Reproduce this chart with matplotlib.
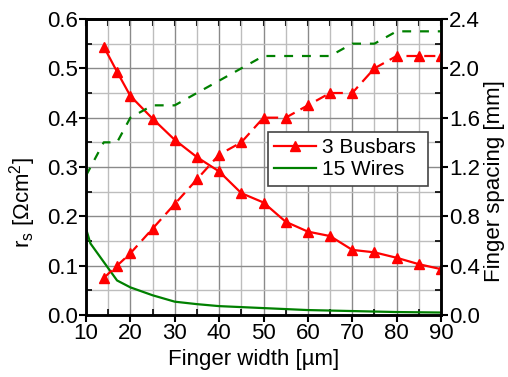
import numpy as np
import matplotlib
matplotlib.use("Agg")
from matplotlib import pyplot as plt
from matplotlib.ticker import MultipleLocator, FormatStrFormatter, NullFormatter

plt.rcParams['font.family'] = ['Liberation Sans', 'DejaVu Sans']

# 3 busbars: series resistance and finger spacing vs finger width
bb_width = [14, 17, 20, 25, 30, 35, 40, 45, 50, 55, 60, 65, 70, 75, 80, 85, 90]
bb_rs = [0.544, 0.493, 0.444, 0.398, 0.355, 0.320, 0.291, 0.247, 0.228,
         0.189, 0.169, 0.160, 0.132, 0.127, 0.116, 0.103, 0.093]
bb_spacing = [0.3, 0.4, 0.5, 0.7, 0.9, 1.1, 1.3, 1.4, 1.6, 1.6, 1.7, 1.8,
              1.8, 2.0, 2.1, 2.1, 2.1]

# 15 wires
w_width = [10, 11, 17, 20, 25, 30, 35, 40, 45, 50, 60, 70, 80, 90]
w_rs = [0.175, 0.145, 0.070, 0.056, 0.040, 0.027, 0.022, 0.018, 0.016,
        0.014, 0.010, 0.008, 0.006, 0.005]
w_sp_width = [10, 14, 17, 20, 25, 30, 35, 40, 45, 50, 55, 60, 65, 70, 75,
              80, 85, 90]
w_spacing = [1.13, 1.4, 1.4, 1.6, 1.7, 1.7, 1.8, 1.9, 2.0, 2.1, 2.1, 2.1,
             2.1, 2.2, 2.2, 2.3, 2.3, 2.3]

FS = 16

fig = plt.figure(figsize=(5.08, 3.77), dpi=100)
ax = fig.add_axes([86/508, 62/377, 355/508, 296/377])
ax2 = ax.twinx()

l1, = ax.plot(bb_width, bb_rs, color='red', lw=1.6, marker='^', ms=7,
              label='3 Busbars')
l2, = ax.plot(w_width, w_rs, color='green', lw=1.6, label='15 Wires')
ax2.plot(bb_width, bb_spacing, color='red', lw=1.6, marker='^', ms=7,
         dashes=(5, 3))
ax2.plot(w_sp_width, w_spacing, color='green', lw=1.6, dashes=(4, 4))

ax.set_xlim(10, 90)
ax.set_ylim(0, 0.6)
ax2.set_ylim(0, 2.4)
ax.xaxis.set_major_locator(MultipleLocator(10))
ax.xaxis.set_minor_locator(MultipleLocator(5))
ax.yaxis.set_major_locator(MultipleLocator(0.1))
ax.yaxis.set_minor_locator(MultipleLocator(0.05))
ax2.yaxis.set_major_locator(MultipleLocator(0.4))
ax2.yaxis.set_minor_locator(MultipleLocator(0.2))
ax.yaxis.set_major_formatter(FormatStrFormatter('%.1f'))
ax2.yaxis.set_major_formatter(FormatStrFormatter('%.1f'))

ax.grid(True, which='major', color='#8a8a8a', lw=1)
ax.grid(True, which='minor', color='#bdbdbd', lw=1)
ax.set_axisbelow(True)

for a in (ax, ax2):
    for s in a.spines.values():
        s.set_linewidth(1.8)
ax.tick_params(which='major', direction='out', length=5, width=1.5,
               labelsize=FS, pad=1)
ax.tick_params(which='minor', direction='in', length=4, width=1.2)
ax2.tick_params(which='major', direction='out', length=5, width=1.5,
                labelsize=FS, pad=1)
ax2.tick_params(which='minor', direction='in', length=4, width=1.2)

# top axis: ticks pointing in, no labels
top = ax.secondary_xaxis('top')
top.xaxis.set_major_locator(MultipleLocator(5))
top.xaxis.set_major_formatter(NullFormatter())
top.tick_params(direction='in', length=5, width=1.5)
top.spines['top'].set_linewidth(1.8)

ax.set_xlabel('Finger width [µm]', fontsize=FS)
ax.xaxis.set_label_coords(0.473, -0.115)
ax.set_ylabel(r'r$_\mathregular{s}$ [$\mathregular{\Omega}$cm$^\mathregular{2}$]',
              fontsize=FS)
ax.yaxis.set_label_coords(-0.135, 0.38)
ax2.set_ylabel('Finger spacing [mm]', fontsize=FS)
ax2.yaxis.set_label_coords(1.122, 0.453)

leg = ax2.legend([l1, l2], ['3 Busbars', '15 Wires'], loc='lower left',
                 bbox_to_anchor=(0.513, 0.437, 0.45, 0.188), mode='expand',
                 borderaxespad=0, fontsize=15, fancybox=False, framealpha=1,
                 edgecolor='#444444', borderpad=0.3, handlelength=2.0,
                 handletextpad=0.3, labelspacing=0.15)
leg.get_frame().set_linewidth(1.2)

fig.savefig('out.png', dpi=100)
